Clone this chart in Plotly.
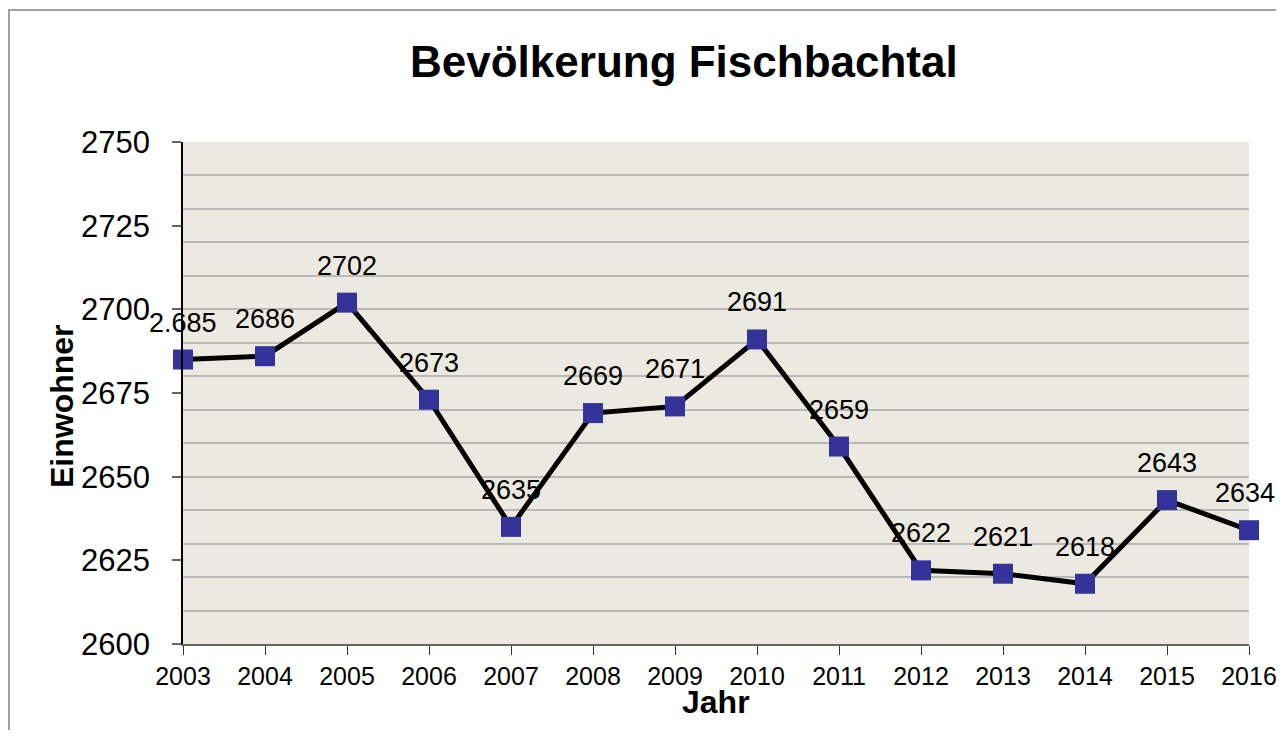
import plotly.graph_objects as go

years = [2003, 2004, 2005, 2006, 2007, 2008, 2009, 2010, 2011, 2012, 2013, 2014, 2015, 2016]
einwohner = [2685, 2686, 2702, 2673, 2635, 2669, 2671, 2691, 2659, 2622, 2621, 2618, 2643, 2634]
labels = ["2.685", "2686", "2702", "2673", "2635", "2669", "2671", "2691", "2659", "2622", "2621", "2618", "2643", "2634"]
y_ticks = [2600, 2625, 2650, 2675, 2700, 2725, 2750]

# page body has an 8px margin on every side; work in reference-window pixels
OFF = 8
W, H = 1284 - 2 * OFF, 738 - 2 * OFF
L, T = 183 - OFF, 142 - OFF
R = W - (1249 - OFF)
B = H - (644 - OFF)
pw, ph = W - L - R, H - T - B

def px_x(p):
    return (p - OFF - L) / pw

def px_y(p):
    return (H - B - (p - OFF)) / ph

FONT = "Liberation Sans, Arial, sans-serif"

fig = go.Figure()
fig.add_trace(go.Scatter(
    x=years, y=einwohner, mode="lines+markers",
    line=dict(color="black", width=5),
    marker=dict(symbol="square", size=20, color="#333399", line=dict(color="#333399", width=0)),
    cliponaxis=False, showlegend=False, hoverinfo="skip",
))

for i, (x, y, t) in enumerate(zip(years, einwohner, labels)):
    # keep the last label inside the page edge
    shift = -4 if i == len(years) - 1 else 0
    fig.add_annotation(x=x, y=y, text=t, showarrow=False, yshift=37, xshift=shift,
                       font=dict(family=FONT, size=27, color="black"))

fig.add_annotation(xref="paper", yref="paper", x=px_x(684), y=px_y(62),
                   text="<b>Bevölkerung Fischbachtal</b>", showarrow=False,
                   font=dict(family=FONT, size=44, color="black"),
                   xanchor="center", yanchor="middle")
fig.add_annotation(xref="paper", yref="paper", x=px_x(716), y=px_y(702),
                   text="<b>Jahr</b>", showarrow=False,
                   font=dict(family=FONT, size=32, color="black"),
                   xanchor="center", yanchor="middle")
fig.add_annotation(xref="paper", yref="paper", x=px_x(62), y=px_y(406),
                   text="<b>Einwohner</b>", showarrow=False, textangle=-90,
                   font=dict(family=FONT, size=32, color="black"),
                   xanchor="center", yanchor="middle")

fig.add_shape(type="rect", xref="paper", yref="paper",
              x0=px_x(9), x1=px_x(1300), y0=px_y(760), y1=px_y(10),
              line=dict(color="#808080", width=1.5), fillcolor="rgba(0,0,0,0)", layer="below")

fig.update_layout(
    width=W, height=H,
    margin=dict(l=L, r=R, t=T, b=B, autoexpand=False),
    paper_bgcolor="white", plot_bgcolor="#ECEAE0",
    font=dict(family=FONT, color="black"),
    xaxis=dict(range=[2003, 2016], tickmode="array", tickvals=years,
               ticktext=[str(y) for y in years],
               ticklabeloverflow="allow", automargin=False,
               showgrid=False, zeroline=False,
               showline=True, linecolor="#666666", linewidth=1.5,
               ticks="outside", ticklen=9, tickcolor="#333333", tickwidth=1,
               tickfont=dict(size=25, family=FONT)),
    yaxis=dict(range=[2600, 2750], tickmode="array", tickvals=y_ticks,
               showgrid=False, zeroline=False, automargin=False,
               showline=True, linecolor="black", linewidth=1.5,
               ticks="outside", ticklen=9, tickcolor="#666666", tickwidth=1.5,
               ticklabelstandoff=16,
               tickfont=dict(size=31, family=FONT),
               minor=dict(tickmode="linear", tick0=2600, dtick=10, showgrid=True,
                          gridcolor="#B8B8B8", gridwidth=2, ticks="")),
)

fig.write_html("out.html")
